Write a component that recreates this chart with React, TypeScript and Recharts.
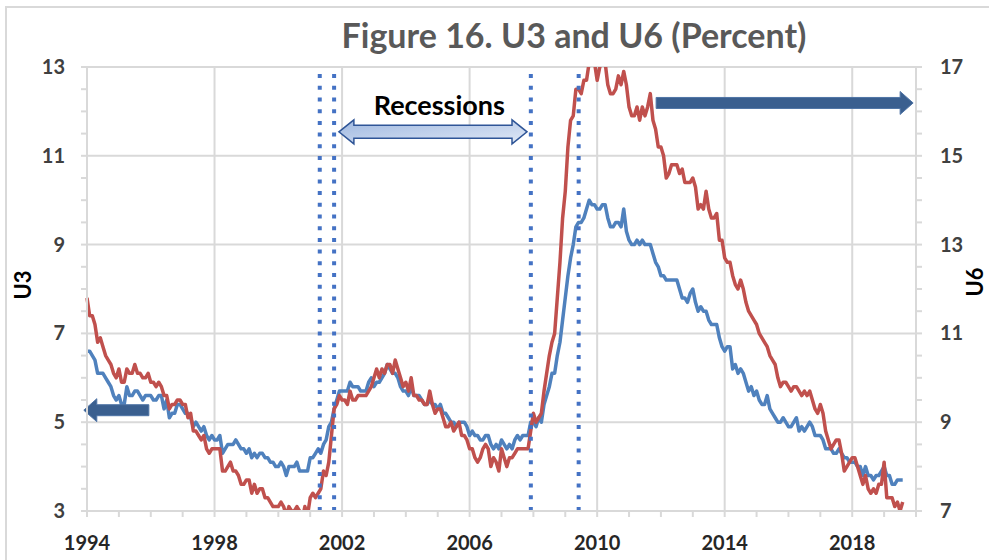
import React from 'react';
import { ComposedChart, Line, XAxis, YAxis, ReferenceLine, ReferenceDot } from 'recharts';

// Monthly, seasonally adjusted, Jan 1994 .. Aug 2019
const START_YEAR = 1994;

const U3_VALUES: number[] = [
  6.6, 6.6, 6.5, 6.4, 6.1, 6.1, 6.1, 6.0, 5.9, 5.8, 5.6, 5.5, // 1994
  5.6, 5.4, 5.4, 5.8, 5.6, 5.6, 5.7, 5.7, 5.6, 5.5, 5.6, 5.6, // 1995
  5.6, 5.5, 5.5, 5.6, 5.6, 5.3, 5.5, 5.1, 5.2, 5.2, 5.4, 5.4, // 1996
  5.3, 5.2, 5.2, 5.1, 4.9, 5.0, 4.9, 4.8, 4.9, 4.7, 4.6, 4.7, // 1997
  4.6, 4.6, 4.7, 4.3, 4.4, 4.5, 4.5, 4.5, 4.6, 4.5, 4.4, 4.4, // 1998
  4.3, 4.4, 4.2, 4.3, 4.2, 4.3, 4.3, 4.2, 4.2, 4.1, 4.1, 4.0, // 1999
  4.0, 4.1, 4.0, 3.8, 4.0, 4.0, 4.0, 4.1, 3.9, 3.9, 3.9, 3.9, // 2000
  4.2, 4.2, 4.3, 4.4, 4.3, 4.5, 4.6, 4.9, 5.0, 5.3, 5.5, 5.7, // 2001
  5.7, 5.7, 5.7, 5.9, 5.8, 5.8, 5.8, 5.7, 5.7, 5.7, 5.9, 6.0, // 2002
  5.8, 5.9, 5.9, 6.0, 6.1, 6.3, 6.2, 6.1, 6.1, 6.0, 5.8, 5.7, // 2003
  5.7, 5.6, 5.8, 5.6, 5.6, 5.6, 5.5, 5.4, 5.4, 5.5, 5.4, 5.4, // 2004
  5.3, 5.4, 5.2, 5.2, 5.1, 5.0, 5.0, 4.9, 5.0, 5.0, 5.0, 4.9, // 2005
  4.7, 4.8, 4.7, 4.7, 4.6, 4.6, 4.7, 4.7, 4.5, 4.4, 4.5, 4.4, // 2006
  4.6, 4.5, 4.4, 4.5, 4.4, 4.6, 4.7, 4.6, 4.7, 4.7, 4.7, 5.0, // 2007
  5.0, 4.9, 5.1, 5.0, 5.4, 5.6, 5.8, 6.1, 6.1, 6.5, 6.8, 7.3, // 2008
  7.8, 8.3, 8.7, 9.0, 9.4, 9.5, 9.5, 9.6, 9.8, 10.0, 9.9, 9.9, // 2009
  9.8, 9.8, 9.9, 9.9, 9.6, 9.4, 9.4, 9.5, 9.5, 9.4, 9.8, 9.3, // 2010
  9.1, 9.0, 9.0, 9.1, 9.0, 9.1, 9.0, 9.0, 9.0, 8.8, 8.6, 8.5, // 2011
  8.3, 8.3, 8.2, 8.2, 8.2, 8.2, 8.2, 8.0, 7.8, 7.8, 7.7, 7.9, // 2012
  8.0, 7.7, 7.5, 7.6, 7.5, 7.5, 7.3, 7.2, 7.2, 7.2, 6.9, 6.7, // 2013
  6.6, 6.7, 6.7, 6.2, 6.3, 6.1, 6.2, 6.1, 5.9, 5.7, 5.8, 5.6, // 2014
  5.7, 5.5, 5.4, 5.4, 5.6, 5.3, 5.2, 5.1, 5.0, 5.0, 5.1, 5.0, // 2015
  4.9, 4.9, 5.0, 5.1, 4.8, 4.9, 4.8, 4.9, 5.0, 4.9, 4.7, 4.7, // 2016
  4.7, 4.6, 4.4, 4.4, 4.4, 4.3, 4.3, 4.4, 4.3, 4.2, 4.2, 4.1, // 2017
  4.1, 4.1, 4.0, 4.0, 3.8, 4.0, 3.8, 3.8, 3.7, 3.8, 3.8, 3.9, // 2018
  4.0, 3.8, 3.8, 3.6, 3.6, 3.7, 3.7, 3.7, // 2019
];

const U6_VALUES: number[] = [
  11.8, 11.4, 11.4, 11.2, 10.8, 10.9, 10.7, 10.5, 10.4, 10.3, 10.1, 10.0, // 1994
  10.2, 9.9, 9.9, 10.2, 10.1, 10.1, 10.3, 10.1, 10.1, 10.0, 10.0, 10.1, // 1995
  9.9, 9.9, 9.8, 9.9, 9.8, 9.6, 9.6, 9.3, 9.4, 9.4, 9.5, 9.5, // 1996
  9.4, 9.4, 9.1, 9.2, 8.8, 8.8, 8.7, 8.6, 8.7, 8.4, 8.3, 8.4, // 1997
  8.4, 8.4, 8.4, 7.9, 7.9, 8.0, 8.1, 7.9, 7.9, 7.8, 7.6, 7.6, // 1998
  7.7, 7.7, 7.4, 7.6, 7.4, 7.5, 7.5, 7.3, 7.3, 7.2, 7.1, 7.1, // 1999
  7.1, 7.2, 7.1, 6.9, 7.1, 7.0, 7.0, 7.1, 7.0, 6.8, 7.1, 6.9, // 2000
  7.3, 7.4, 7.3, 7.4, 7.5, 7.9, 7.8, 8.1, 8.7, 9.3, 9.4, 9.6, // 2001
  9.5, 9.5, 9.4, 9.7, 9.5, 9.5, 9.6, 9.6, 9.6, 9.6, 9.7, 9.8, // 2002
  10.0, 10.2, 10.0, 10.2, 10.1, 10.3, 10.3, 10.1, 10.4, 10.2, 10.0, 9.8, // 2003
  9.9, 9.7, 10.0, 9.6, 9.6, 9.5, 9.5, 9.4, 9.4, 9.7, 9.4, 9.2, // 2004
  9.3, 9.3, 9.1, 8.9, 8.9, 9.0, 8.8, 8.9, 9.0, 8.7, 8.7, 8.6, // 2005
  8.4, 8.4, 8.2, 8.1, 8.2, 8.4, 8.5, 8.4, 8.0, 8.2, 8.1, 7.9, // 2006
  8.4, 8.2, 8.0, 8.2, 8.2, 8.3, 8.4, 8.4, 8.4, 8.4, 8.4, 8.8, // 2007
  9.2, 9.0, 9.1, 9.2, 9.7, 10.1, 10.5, 10.8, 11.0, 11.8, 12.6, 13.6, // 2008
  14.2, 15.2, 15.8, 15.9, 16.5, 16.5, 16.4, 16.7, 16.7, 17.1, 17.1, 17.1, // 2009
  16.7, 17.0, 17.1, 17.1, 16.6, 16.4, 16.4, 16.5, 16.8, 16.6, 16.9, 16.6, // 2010
  16.1, 15.9, 15.9, 16.1, 15.8, 16.1, 15.9, 16.1, 16.4, 15.8, 15.6, 15.2, // 2011
  15.2, 15.0, 14.5, 14.6, 14.8, 14.8, 14.8, 14.6, 14.7, 14.4, 14.4, 14.4, // 2012
  14.5, 14.3, 13.8, 13.9, 13.8, 14.2, 13.8, 13.6, 13.6, 13.7, 13.1, 13.1, // 2013
  12.7, 12.6, 12.6, 12.3, 12.1, 12.0, 12.2, 12.0, 11.7, 11.5, 11.4, 11.3, // 2014
  11.2, 11.0, 10.9, 10.8, 10.7, 10.5, 10.4, 10.3, 10.0, 9.8, 9.9, 9.9, // 2015
  9.8, 9.7, 9.8, 9.8, 9.7, 9.6, 9.7, 9.6, 9.7, 9.5, 9.3, 9.2, // 2016
  9.4, 9.2, 8.8, 8.6, 8.4, 8.5, 8.6, 8.6, 8.3, 7.9, 8.0, 8.1, // 2017
  8.2, 8.2, 8.0, 7.8, 7.6, 7.8, 7.5, 7.4, 7.5, 7.4, 7.6, 7.6, // 2018
  8.1, 7.3, 7.3, 7.3, 7.1, 7.2, 7.0, 7.2, // 2019
];

const YEAR_TICKS = [
  1994, 1995, 1996, 1997, 1998, 1999, 2000, 2001, 2002, 2003, 2004, 2005, 2006,
  2007, 2008, 2009, 2010, 2011, 2012, 2013, 2014, 2015, 2016, 2017, 2018, 2019, 2020,
];
const YEAR_LABELS = [1994, 1998, 2002, 2006, 2010, 2014, 2018];
const YEAR_GRID = [1998, 2002, 2006, 2010, 2014, 2018];

const U3_TICKS = [3, 3.5, 4, 4.5, 5, 5.5, 6, 6.5, 7, 7.5, 8, 8.5, 9, 9.5, 10, 10.5, 11, 11.5, 12, 12.5, 13];
const U3_LABELS = [3, 5, 7, 9, 11, 13];
const U3_GRID = [5, 7, 9, 11, 13];
const U6_TICKS = [7, 7.5, 8, 8.5, 9, 9.5, 10, 10.5, 11, 11.5, 12, 12.5, 13, 13.5, 14, 14.5, 15, 15.5, 16, 16.5, 17];
const U6_LABELS = [7, 9, 11, 13, 15, 17];

// recession start / end markers (fractional years)
const RECESSION_LINES = [2001.3, 2001.75, 2007.92, 2009.42];

// annotation anchors: [from year, to year, U3 level]
const RECESSION_ARROW = [2001.9, 2007.8, 11.54];
const RECESSION_TEXT = [2005.05, 11.93];
const LEFT_ARROW = [1995.94, 1993.9, 5.27];
const RIGHT_ARROW = [2011.85, 2019.91, 12.19];

const chartData = U3_VALUES.map((u3, i) => ({
  t: START_YEAR + i / 12,
  u3,
  u6: U6_VALUES[i],
}));

const FONT = "Lato, 'Open Sans', sans-serif";
const GRID = '#d9d9d9';

function arrowPoints(tail: number, tip: number, y: number, shaft: number, head: number, headLen: number, double: boolean) {
  const dir = tip > tail ? 1 : -1;
  const hb = tip - dir * headLen;
  const tb = tail + dir * headLen;
  const s = shaft / 2;
  const h = head / 2;
  if (!double) {
    return [
      [tail, y - s], [hb, y - s], [hb, y - h], [tip, y], [hb, y + h], [hb, y + s], [tail, y + s],
    ].map((p) => p.join(',')).join(' ');
  }
  return [
    [tail, y], [tb, y - h], [tb, y - s], [hb, y - s], [hb, y - h], [tip, y],
    [hb, y + h], [hb, y + s], [tb, y + s], [tb, y + h],
  ].map((p) => p.join(',')).join(' ');
}

const SolidArrow = (props: any) => {
  const { x1, y1, x2 } = props;
  if (x1 == null) return null;
  return (
    <polygon
      points={arrowPoints(x1, x2, y1, 11, 23, 13, false)}
      fill="#3a5f8f"
      stroke="#4f74a6"
      strokeWidth={1}
    />
  );
};

const DoubleArrow = (props: any) => {
  const { x1, y1, x2 } = props;
  if (x1 == null) return null;
  return (
    <polygon
      points={arrowPoints(x1, x2, y1, 13, 24, 15, true)}
      fill="url(#recessionFill)"
      stroke="#2f5597"
      strokeWidth={1.5}
    />
  );
};

const RecessionText = (props: any) => {
  const { cx, cy } = props;
  if (cx == null) return null;
  return (
    <text x={cx} y={cy} textAnchor="middle" fontFamily={FONT} fontWeight={700} fontSize={27} fill="#000">
      Recessions
    </text>
  );
};

const XTick = (props: any) => {
  const { x, y, payload } = props;
  if (!YEAR_LABELS.includes(payload.value)) return <g />;
  return (
    <text x={x} y={y} dy={33} textAnchor="middle" fontFamily={FONT} fontWeight={700} fontSize={20} fill="#262626">
      {payload.value}
    </text>
  );
};

const LeftTick = (props: any) => {
  const { x, y, payload } = props;
  if (!U3_LABELS.includes(payload.value)) return <g />;
  return (
    <text x={x} y={y} dy={7} textAnchor="end" fontFamily={FONT} fontWeight={700} fontSize={20} fill="#404040">
      {payload.value}
    </text>
  );
};

const RightTick = (props: any) => {
  const { x, y, payload } = props;
  if (!U6_LABELS.includes(payload.value)) return <g />;
  return (
    <text x={x} y={y} dy={7} textAnchor="start" fontFamily={FONT} fontWeight={700} fontSize={20} fill="#404040">
      {payload.value}
    </text>
  );
};

const axisTitleStyle = (left: number, top: number): React.CSSProperties => ({
  position: 'absolute',
  left,
  top,
  transform: 'translate(-50%, -50%) rotate(-90deg)',
  whiteSpace: 'nowrap',
  fontFamily: FONT,
  fontWeight: 700,
  fontSize: 22,
  lineHeight: '24px',
  color: '#000',
});

export default function App() {
  return (
    <div style={{ position: 'absolute', left: 0, top: 0, width: 989, height: 560, overflow: 'hidden', background: '#fff' }}>
      <div
        style={{
          position: 'absolute',
          left: 5,
          top: 6,
          width: 1100,
          height: 700,
          borderLeft: `2px solid ${GRID}`,
          borderTop: `2px solid ${GRID}`,
        }}
      />
      <div
        style={{
          position: 'absolute',
          left: 574,
          top: 12,
          transform: 'translateX(-50%)',
          whiteSpace: 'nowrap',
          fontFamily: FONT,
          fontWeight: 700,
          fontSize: 34,
          lineHeight: '46px',
          color: '#595959',
        }}
      >
        Figure 16. U3 and U6 (Percent)
      </div>
      <div style={{ position: 'absolute', left: 0, top: 0 }}>
        <ComposedChart width={989} height={560} data={chartData} margin={{ top: 67, right: 0, bottom: 0, left: 0 }}>
          <defs>
            <linearGradient id="recessionFill" x1="0" y1="0" x2="1" y2="1">
              <stop offset="0%" stopColor="#9fb8e0" />
              <stop offset="100%" stopColor="#e1e9f6" />
            </linearGradient>
          </defs>
          <XAxis
            dataKey="t"
            type="number"
            domain={[1994, 2020]}
            ticks={YEAR_TICKS}
            interval={0}
            height={49}
            tickSize={6}
            tickMargin={0}
            axisLine={{ stroke: GRID, strokeWidth: 2 }}
            tickLine={{ stroke: GRID, strokeWidth: 2 }}
            tick={<XTick />}
          />
          <YAxis
            yAxisId="left"
            domain={[3, 13]}
            ticks={U3_TICKS}
            interval={0}
            allowDataOverflow
            width={87}
            tickSize={6}
            tickMargin={16}
            axisLine={{ stroke: GRID, strokeWidth: 2 }}
            tickLine={{ stroke: GRID, strokeWidth: 2 }}
            tick={<LeftTick />}
          />
          <YAxis
            yAxisId="right"
            orientation="right"
            domain={[7, 17]}
            ticks={U6_TICKS}
            interval={0}
            allowDataOverflow
            width={73}
            tickSize={6}
            tickMargin={18}
            axisLine={{ stroke: GRID, strokeWidth: 2 }}
            tickLine={{ stroke: GRID, strokeWidth: 2 }}
            tick={<RightTick />}
          />
          {YEAR_GRID.map((yr) => (
            <ReferenceLine key={`vx${yr}`} x={yr} yAxisId="left" stroke={GRID} strokeWidth={2} />
          ))}
          {U3_GRID.map((v) => (
            <ReferenceLine key={`hy${v}`} y={v} yAxisId="left" stroke={GRID} strokeWidth={2} />
          ))}
          <Line
            yAxisId="left"
            dataKey="u3"
            type="linear"
            stroke="#4f81bd"
            strokeWidth={3.5}
            strokeLinejoin="round"
            dot={false}
            activeDot={false}
            isAnimationActive={false}
          />
          <Line
            yAxisId="right"
            dataKey="u6"
            type="linear"
            stroke="#c0504d"
            strokeWidth={3.5}
            strokeLinejoin="round"
            dot={false}
            activeDot={false}
            isAnimationActive={false}
          />
          {RECESSION_LINES.map((yr) => (
            <ReferenceLine
              key={`rec${yr}`}
              x={yr}
              yAxisId="left"
              stroke="#4472c4"
              strokeWidth={4}
              strokeDasharray="4 7.7"
            />
          ))}
          <ReferenceLine
            yAxisId="left"
            ifOverflow="visible"
            segment={[
              { x: RECESSION_ARROW[0], y: RECESSION_ARROW[2] },
              { x: RECESSION_ARROW[1], y: RECESSION_ARROW[2] },
            ]}
            shape={<DoubleArrow />}
          />
          <ReferenceLine
            yAxisId="left"
            ifOverflow="visible"
            segment={[
              { x: LEFT_ARROW[0], y: LEFT_ARROW[2] },
              { x: LEFT_ARROW[1], y: LEFT_ARROW[2] },
            ]}
            shape={<SolidArrow />}
          />
          <ReferenceLine
            yAxisId="left"
            ifOverflow="visible"
            segment={[
              { x: RIGHT_ARROW[0], y: RIGHT_ARROW[2] },
              { x: RIGHT_ARROW[1], y: RIGHT_ARROW[2] },
            ]}
            shape={<SolidArrow />}
          />
          <ReferenceDot
            yAxisId="left"
            x={RECESSION_TEXT[0]}
            y={RECESSION_TEXT[1]}
            ifOverflow="visible"
            shape={<RecessionText />}
          />
        </ComposedChart>
      </div>
      <div style={axisTitleStyle(23, 285)}>U3</div>
      <div style={axisTitleStyle(975, 282)}>U6</div>
    </div>
  );
}
